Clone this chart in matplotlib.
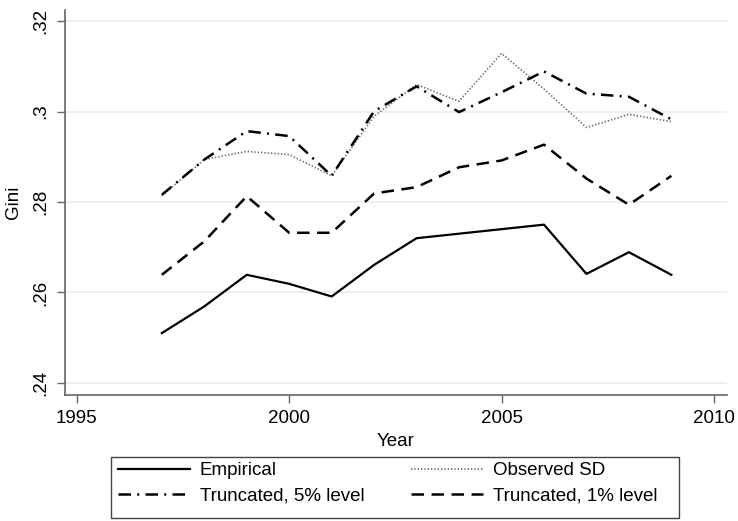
import matplotlib.pyplot as plt
from matplotlib.patches import Rectangle

plt.rcParams['font.family'] = ['Liberation Sans', 'DejaVu Sans']

years = [1997, 1998, 1999, 2000, 2001, 2002, 2003, 2004, 2005, 2006, 2007, 2008, 2009]
empirical = [0.2510, 0.2569, 0.2639, 0.2619, 0.2591, 0.2661, 0.2720, 0.2730, 0.2740, 0.2750, 0.2641, 0.2689, 0.2639]
observed_sd = [0.2814, 0.2894, 0.2912, 0.2905, 0.2858, 0.2990, 0.3060, 0.3023, 0.3129, 0.3050, 0.2965, 0.2994, 0.2978]
trunc5 = [0.2816, 0.2894, 0.2957, 0.2946, 0.2858, 0.3001, 0.3056, 0.2999, 0.3043, 0.3089, 0.3040, 0.3033, 0.2983]
trunc1 = [0.2639, 0.2713, 0.2813, 0.2732, 0.2732, 0.2819, 0.2833, 0.2877, 0.2892, 0.2927, 0.2852, 0.2794, 0.2858]

yticks = [0.24, 0.26, 0.28, 0.30, 0.32]
ytick_labels = ['.24', '.26', '.28', '.3', '.32']
xticks = [1995, 2000, 2005, 2010]

fig = plt.figure(figsize=(7.38, 5.21), dpi=100)
ax = fig.add_axes([65 / 738, 1 - 395 / 521, (727 - 65) / 738, (395 - 10) / 521])

l_emp, = ax.plot(years, empirical, color='black', lw=1.6, ls='-', label='Empirical')
l_obs, = ax.plot(years, observed_sd, color='#666666', lw=1.2, ls=(0, (0.8, 1.2)), label='Observed SD')
l_t5, = ax.plot(years, trunc5, color='black', lw=1.8, ls=(0, (5, 2.5, 0.8, 2.5)), label='Truncated, 5% level')
l_t1, = ax.plot(years, trunc1, color='black', lw=1.8, ls=(0, (5, 3)), label='Truncated, 1% level')

ax.set_xlim(1994.72, 2010.31)
ax.set_ylim(0.2373, 0.3225)
ax.set_xticks(xticks)
ax.set_yticks(yticks)
ax.set_yticklabels(ytick_labels, rotation=90, va='center')
ax.yaxis.grid(True, color='#e6eff1', lw=1.2)
ax.set_axisbelow(True)

for s in ['top', 'right']:
    ax.spines[s].set_visible(False)
for s in ['left', 'bottom']:
    ax.spines[s].set_color('#666666')
    ax.spines[s].set_linewidth(1.2)
ax.tick_params(direction='out', length=6, width=1, color='#666666', labelsize=13.5, pad=5)

ax.set_xlabel('Year', fontsize=13.5, labelpad=4)
ax.set_ylabel('Gini', fontsize=13.5, labelpad=8)

# legend: rows are (Empirical, Observed SD) and (Truncated 5%, Truncated 1%)
fig.legend([l_emp, l_t5, l_obs, l_t1],
           ['Empirical', 'Truncated, 5% level', 'Observed SD', 'Truncated, 1% level'],
           loc='upper left', bbox_to_anchor=(118 / 738, 1 - 462 / 521), ncol=2,
           fontsize=13.5, frameon=False, handlelength=3.84, handletextpad=0.53,
           borderaxespad=0, borderpad=0, labelspacing=0.43, columnspacing=2.5)
fig.patches.append(Rectangle((111 / 738, 1 - 518 / 521), (679 - 111) / 738, 61 / 521,
                             transform=fig.transFigure, fill=False, edgecolor='#444444', lw=1.0))

fig.savefig('out.png', dpi=100, facecolor='white')
